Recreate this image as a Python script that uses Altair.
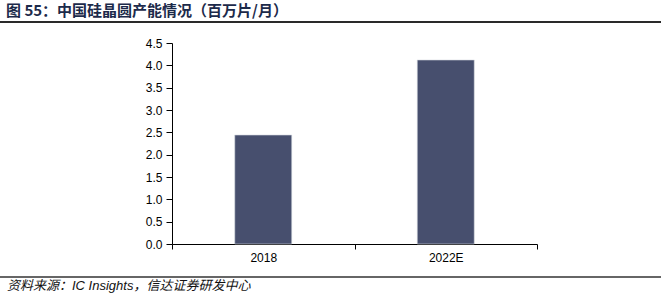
import altair as alt
import pandas as pd

categories = ["2018", "2022E"]
values = [2.44, 4.12]
title_text = ["图 55：中国硅晶圆产能情况（百万片/月）"]
source_text = ["资料来源：IC Insights，信达证券研发中心"]

df = pd.DataFrame({"cat": categories, "val": values})

bars = alt.Chart(df).mark_bar(
    width=57, color="#474F6E", stroke="#d8dbe3", strokeWidth=0.6
).encode(
    x=alt.X("cat:N", sort=categories, title=None,
            scale=alt.Scale(paddingInner=0, paddingOuter=0),
            axis=alt.Axis(labelAngle=0, tickBand="extent", tickSize=5,
                          labelPadding=3, labelFontSize=12, labelFont="Liberation Sans",
                          labelColor="#000", domainColor="#000", tickColor="#000",
                          grid=False)),
    y=alt.Y("val:Q", title=None,
            scale=alt.Scale(domain=[0, 4.5], nice=False),
            axis=alt.Axis(values=[0, 0.5, 1, 1.5, 2, 2.5, 3, 3.5, 4, 4.5], format=".1f",
                          tickSize=6, labelPadding=4, labelFontSize=12,
                          labelFont="Liberation Sans", labelColor="#000",
                          domainColor="#000", tickColor="#000", grid=False)),
)

title = alt.Chart(pd.DataFrame({"t": title_text})).mark_text(
    align="left", baseline="middle", fontSize=15, fontWeight="bold",
    font="Noto Sans CJK SC", color="#1c2a4a"
).encode(x=alt.value(-166), y=alt.value(-32), text="t:N")

top_rule = alt.Chart(pd.DataFrame({"a": [0]})).mark_rule(
    color="#2a2a2a", strokeWidth=2
).encode(x=alt.value(-172), x2=alt.value(489), y=alt.value(-21))

bottom_rule = alt.Chart(pd.DataFrame({"a": [0]})).mark_rule(
    color="#333333", strokeWidth=1.6
).encode(x=alt.value(-172), x2=alt.value(489), y=alt.value(234))

source = alt.Chart(pd.DataFrame({"t": source_text})).mark_text(
    align="left", baseline="middle", fontSize=13, fontStyle="italic",
    font="Liberation Sans, Noto Sans CJK SC", color="#111"
).encode(x=alt.value(-165), y=alt.value(243), text="t:N")

chart = alt.layer(bars, title, top_rule, bottom_rule, source).properties(
    width=365, height=201,
    background="white",
    autosize=alt.AutoSizeParams(type="none"),
    padding={"left": 172, "top": 43, "right": 124, "bottom": 52},
).configure_view(stroke=None)

chart.save("out.html", embed_options={"renderer": "svg", "actions": False})
